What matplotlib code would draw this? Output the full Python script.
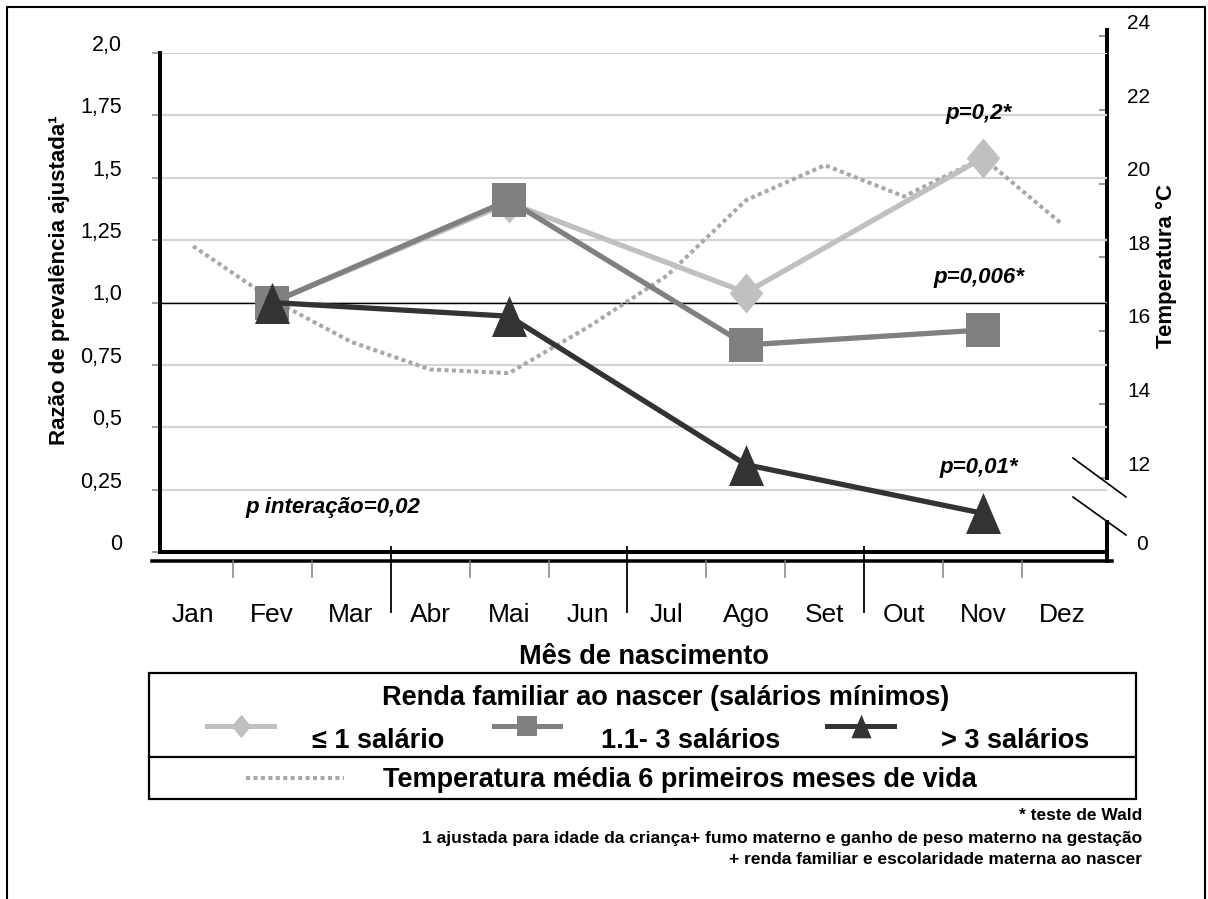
import numpy as np
import matplotlib
matplotlib.use("Agg")
import matplotlib.pyplot as plt
from matplotlib.lines import Line2D
from matplotlib.patches import Rectangle
from matplotlib.transforms import ScaledTranslation, blended_transform_factory

plt.rcParams['font.family'] = ['Liberation Sans', 'DejaVu Sans']

# data
months = ['Jan', 'Fev', 'Mar', 'Abr', 'Mai', 'Jun', 'Jul', 'Ago', 'Set', 'Out', 'Nov', 'Dez']
obs_idx = [1, 4, 7, 10]                     # Fev, Mai, Ago, Nov
rp_ate1 = [1.0, 1.40, 1.04, 1.58]           # <= 1 salario
rp_1a3 = [1.0, 1.41, 0.83, 0.89]            # 1.1-3 salarios
rp_mais3 = [1.0, 0.945, 0.35, 0.155]        # > 3 salarios
temp_media = [18.3, 16.85, 15.7, 14.95, 14.85, 16.1, 17.5, 19.55, 20.5, 19.65, 20.7, 18.9]
y_ticks = [0, 0.25, 0.5, 0.75, 1.0, 1.25, 1.5, 1.75, 2.0]
y_labels = ['0', '0,25', '0,5', '0,75', '1,0', '1,25', '1,5', '1,75', '2,0']
t_ticks = [12, 14, 16, 18, 20, 22, 24]

W, H = 1208, 899
fig = plt.figure(figsize=(W / 100, H / 100), dpi=100)


def fx(x):
    return x / W


def fy(y):
    return 1 - y / H


def pt(px):
    return px * 72 / 100


C_LIGHT, C_MID, C_DARK, C_TEMP = '#c0c0c0', '#808080', '#333333', '#a8a8a8'
diamond = [(0, 1.2), (1, 0), (0, -1.2), (-1, 0)]
triangle = [(0, 1.17), (1, -1.17), (-1, -1.17)]

# temperature axis (right)
ax2 = fig.add_axes([fx(160), fy(478), (1107 - 160) / W, (478 - 30) / H])
ax2.set_xlim(-0.418, 11.57)
ax2.set_ylim(12, 12 + 448 / 36.8)
ax2.patch.set_visible(False)
for s in ['left', 'top', 'bottom']:
    ax2.spines[s].set_visible(False)
ax2.spines['right'].set_linewidth(pt(4))
ax2.set_xticks([])
ax2.yaxis.tick_right()
ax2.set_yticks(t_ticks)
ax2.set_yticklabels([str(t) for t in t_ticks])
ax2.tick_params(axis='y', direction='in', length=pt(8), width=1.2, color='#808080',
                labelsize=15, pad=pt(20))
for lab in ax2.get_yticklabels():
    lab.set_transform(lab.get_transform() + ScaledTranslation(0, 0.15, fig.dpi_scale_trans))

# main axis
ax = fig.add_axes([fx(160), fy(552), (1107 - 160) / W, (552 - 53) / H])
ax.patch.set_visible(False)
ax.set_xlim(-0.418, 11.57)
ax.set_ylim(0, 2)
ax.spines['top'].set_visible(False)
ax.spines['right'].set_visible(False)
ax.spines['left'].set_linewidth(pt(4))
ax.spines['bottom'].set_linewidth(pt(4))
ax.set_yticks(y_ticks)
ax.set_yticklabels(y_labels)
ax.tick_params(axis='y', direction='out', length=pt(8), width=1.2, color='#909090',
               labelsize=15.5, pad=pt(30))
for lab in ax.get_yticklabels():
    lab.set_transform(lab.get_transform() + ScaledTranslation(0, 0.10, fig.dpi_scale_trans))
ax.set_xticks(range(len(months)))
ax.set_xticklabels(months)
ax.tick_params(axis='x', length=0, labelsize=19, pad=pt(51))
ax.yaxis.grid(True, color='#d4d4d4', lw=1.6)
ax.set_axisbelow(True)
ax.axhline(1.0, color='black', lw=1.0, zorder=1)

# temperature line drawn in temperature units
x_all = np.arange(len(months))
ax.plot(x_all, temp_media, color=C_TEMP, lw=2.9, linestyle=(0, (1.0, 0.85)),
        transform=ax2.transData, zorder=2)

ax.plot(obs_idx, rp_ate1, color=C_LIGHT, lw=3.8, marker=diamond, ms=29, mew=0, zorder=3)
ax.plot(obs_idx, rp_1a3, color=C_MID, lw=3.8, marker='s', ms=24, mew=0, zorder=4)
ax.plot(obs_idx, rp_mais3, color=C_DARK, lw=3.8, marker=triangle, ms=29.5, mew=0, zorder=5)

# p-value annotations
ptxt = dict(fontsize=16, fontweight='bold', style='italic', ha='center', va='center')
fig.text(fx(979), fy(113), 'p=0,2*', **ptxt)
fig.text(fx(979), fy(278), 'p=0,006*', **ptxt)
fig.text(fx(979), fy(467), 'p=0,01*', **ptxt)
fig.text(fx(245), fy(508), 'p interação=0,02', fontsize=16, fontweight='bold',
         style='italic', ha='left', va='center')

# category axis below the plot
trans = blended_transform_factory(ax.transData, fig.transFigure)
fig.add_artist(Line2D([fx(152), fx(1112)], [fy(561), fy(561)], color='black', lw=pt(3.5)))
for i in range(11):
    b = i + 0.5
    if i in (2, 5, 8):
        fig.add_artist(Line2D([b, b], [fy(547), fy(612)], color='black', lw=1.3, transform=trans))
    else:
        fig.add_artist(Line2D([b, b], [fy(561), fy(577)], color='#808080', lw=1.1, transform=trans))
fig.text(fx(644), fy(657), 'Mês de nascimento', fontsize=19.5, fontweight='bold',
         ha='center', va='center')

# broken right axis
fig.add_artist(Line2D([fx(1107), fx(1107)], [fy(522), fy(561)], color='black', lw=pt(4)))
fig.add_artist(Line2D([fx(1073), fx(1126)], [fy(458), fy(497)], color='black', lw=1.2))
fig.add_artist(Line2D([fx(1073), fx(1126)], [fy(497), fy(535)], color='black', lw=1.2))
fig.text(fx(1142), fy(545), '0', fontsize=15, ha='center', va='center')

fig.text(fx(60), fy(280), 'Razão de prevalência ajustada¹', fontsize=16, fontweight='bold',
         rotation=90, ha='center', va='center')
fig.text(fx(1166), fy(266), 'Temperatura °C', fontsize=16, fontweight='bold',
         rotation=90, ha='center', va='center')

# legend box
fig.add_artist(Rectangle((fx(149), fy(799)), (1136 - 149) / W, (799 - 673) / H,
                         transform=fig.transFigure, fill=False, ec='black', lw=1.6))
fig.add_artist(Line2D([fx(149), fx(1136)], [fy(757), fy(757)], color='black', lw=1.6))
fig.text(fx(666), fy(698), 'Renda familiar ao nascer (salários mínimos)', fontsize=19.5,
         fontweight='bold', ha='center', va='center')
handles = [(207, 274, C_LIGHT, diamond, 17),
           (494, 560, C_MID, 's', 14),
           (827, 894, C_DARK, triangle, 17)]
for x0, x1, col, mk, ms in handles:
    fig.add_artist(Line2D([fx(x0), fx((x0 + x1) / 2), fx(x1)], [fy(726)] * 3, color=col,
                          lw=pt(5), marker=mk, ms=ms, mew=0, markevery=[1]))
for x0, lab in [(312, '≤ 1 salário'), (601, '1.1- 3 salários'), (941, '> 3 salários')]:
    fig.text(fx(x0), fy(741), lab, fontsize=19.5, fontweight='bold', ha='left', va='center')
fig.add_artist(Line2D([fx(246), fx(344)], [fy(778), fy(778)], color=C_TEMP, lw=2.9,
                      linestyle=(0, (1.0, 0.85))))
fig.text(fx(383), fy(780), 'Temperatura média 6 primeiros meses de vida', fontsize=19.5,
         fontweight='bold', ha='left', va='center')

# footnotes
notes = ['* teste de Wald',
         '1 ajustada para idade da criança+ fumo materno e ganho de peso materno na gestação',
         '+ renda familiar e escolaridade materna ao nascer']
for y, t in zip([815, 838, 859], notes):
    fig.text(fx(1142), fy(y), t, fontsize=12.5, fontweight='bold', ha='right', va='center')

# outer frame
fig.add_artist(Line2D([fx(7), fx(7), fx(1205), fx(1205)], [0, fy(7), fy(7), 0],
                      color='black', lw=1.5))

fig.savefig('out.png', dpi=100)
